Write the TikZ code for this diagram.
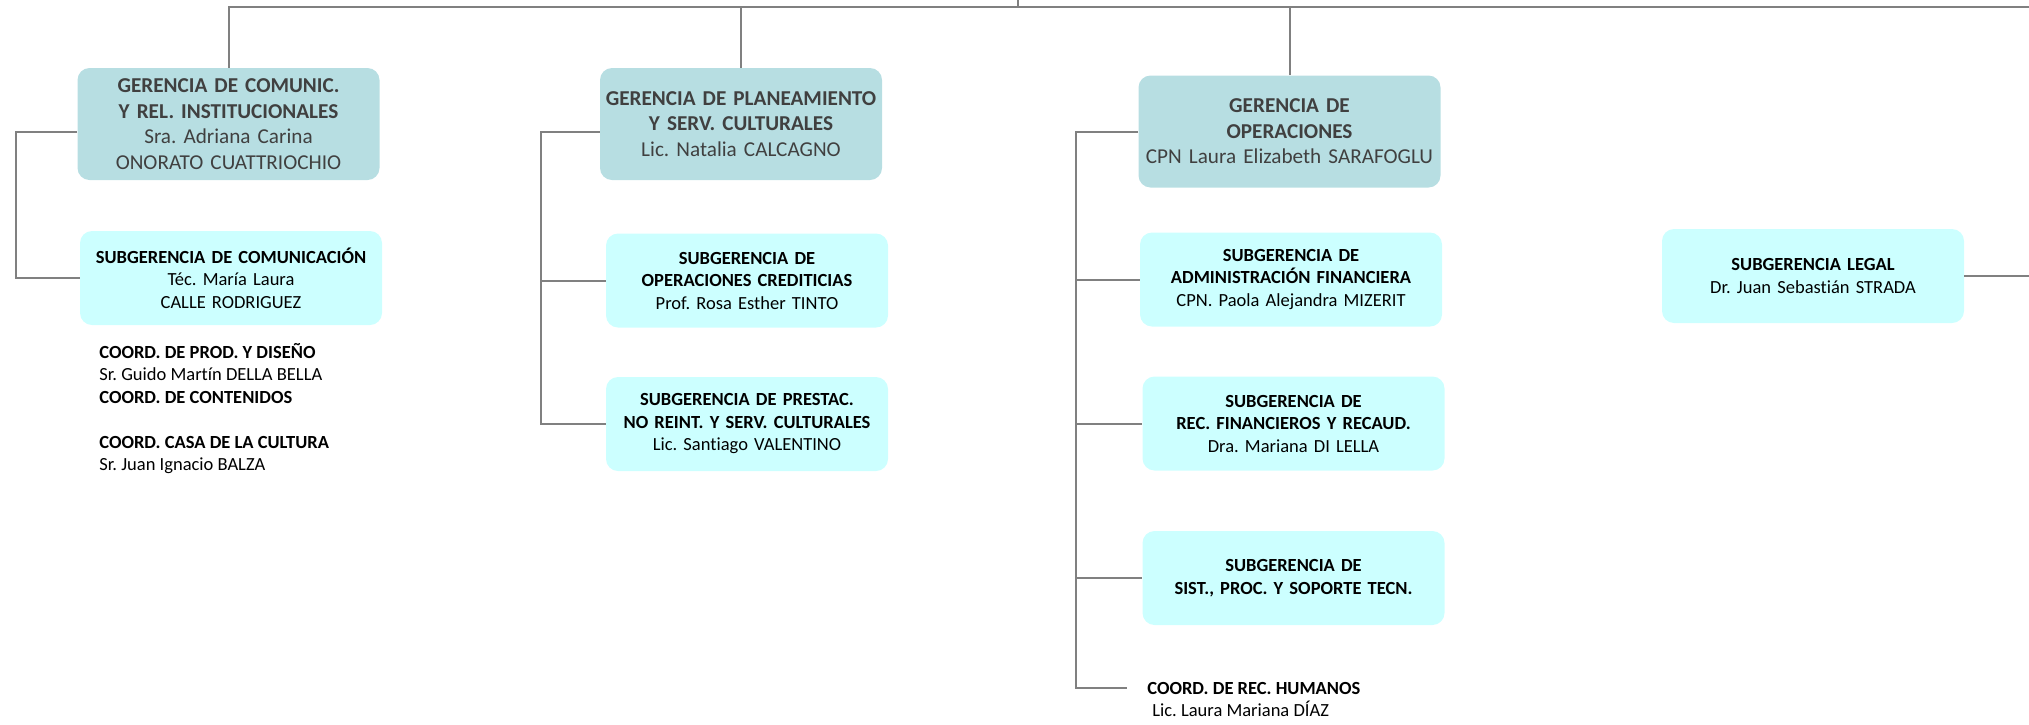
\documentclass[tikz,border=0pt]{standalone}
\usepackage{fontspec}
\setmainfont[Ligatures=NoCommon]{Carlito}
\usetikzlibrary{positioning}
\frenchspacing
\definecolor{gerfill}{RGB}{183,222,226}
\definecolor{subfill}{RGB}{204,255,255}
\definecolor{gertext}{RGB}{64,64,64}
\definecolor{linegray}{RGB}{128,128,128}
\newcommand{\orgbox}[5]{%
    \node[#2] (#1) at #3 {\textbf{#4}\\#5};%
}

\begin{document}
\begin{tikzpicture}[
        x=0.5pt,
        y=-0.5pt,
        gerbox/.style={fill=gerfill, text=gertext, rounded corners=6pt, inner sep=2pt,
            text width=147pt, minimum height=56pt, align=center,
            font=\fontsize{10.6}{12.8}\selectfont},
        subbox/.style={fill=subfill, text=black, rounded corners=6pt, inner sep=2pt,
            text width=147pt, minimum height=47pt, align=center,
            font=\fontsize{9.25}{11.25}\selectfont},
        link/.style={draw=linegray, line width=1pt},
        staff/.style={align=left, inner sep=0pt, font=\fontsize{9.25}{11.25}\selectfont}
    ]
        \useasboundingbox (0,0) rectangle (2029,724);

        \orgbox{G1}{gerbox}{(228.5,124)}{GERENCIA DE COMUNIC.\\Y REL. INSTITUCIONALES}{Sra. Adriana Carina\\ONORATO CUATTRIOCHIO}
        \orgbox{S1}{subbox}{(231,278)}{SUBGERENCIA DE COMUNICACIÓN}{Téc. María Laura\\CALLE RODRIGUEZ}
        \orgbox{G2}{gerbox, text width=137pt}{(741,124)}{GERENCIA DE PLANEAMIENTO\\Y SERV. CULTURALES}{Lic. Natalia CALCAGNO}
        \orgbox{S2a}{subbox, text width=137pt}{(747,280.5)}{SUBGERENCIA DE\\OPERACIONES CREDITICIAS}{Prof. Rosa Esther TINTO}
        \orgbox{S2b}{subbox, text width=137pt}{(747,424)}{SUBGERENCIA DE PRESTAC.\\NO REINT. Y SERV. CULTURALES}{Lic. Santiago VALENTINO}
        \orgbox{G3}{gerbox}{(1289.5,131.5)}{GERENCIA DE\\OPERACIONES}{CPN Laura Elizabeth SARAFOGLU}
        \orgbox{S3a}{subbox}{(1291,279.5)}{SUBGERENCIA DE\\ADMINISTRACIÓN FINANCIERA}{CPN. Paola Alejandra MIZERIT}
        \orgbox{S3b}{subbox}{(1293.5,423.5)}{SUBGERENCIA DE\\REC. FINANCIEROS Y RECAUD.}{Dra. Mariana DI LELLA}
        \node[subbox] (S3c) at (1293.5,578) {\textbf{SUBGERENCIA DE\\SIST., PROC. Y SOPORTE TECN.}};
        \orgbox{SL}{subbox}{(1813,276)}{SUBGERENCIA LEGAL}{Dr. Juan Sebastián STRADA}

        \node[staff, anchor=north west] (C1) at (99,343) {\textbf{COORD. DE PROD. Y DISEÑO}\\Sr. Guido Martín DELLA BELLA\\\textbf{COORD. DE CONTENIDOS}\\[11.25pt]\textbf{COORD. CASA DE LA CULTURA}\\Sr. Juan Ignacio BALZA};
        \node[staff, anchor=west, inner xsep=10pt] (HRt) at (1127,688) {\textbf{COORD. DE REC. HUMANOS}};
        \node[staff, anchor=base west] (HRn) at ([xshift=12.5pt, yshift=-11pt]HRt.base west) {Lic. Laura Mariana DÍAZ};

        \coordinate (parent) at (1018,0);
        \coordinate (busR) at (2029,7);
        \coordinate (legalR) at (2029,276);

        \draw[link] (G1.north) |- (busR);
        \draw[link] (parent) -- (parent |- busR);
        \draw[link] (G2.north) -- (G2.north |- busR);
        \draw[link] (G3.north) -- (G3.north |- busR);

        \draw[link] ([yshift=-4pt]G1.west) -- ++(-61,0) |- (S1.west);

        \draw[link] ([yshift=-4pt]G2.west) -- ++(-59,0) coordinate (bus2) |- (S2b.west);
        \draw[link] (bus2 |- S2a.west) -- (S2a.west);

        \draw[link] (G3.west) -- ++(-62,0) coordinate (bus3) |- (HRt.west);
        \draw[link] (bus3 |- S3a.west) -- (S3a.west);
        \draw[link] (bus3 |- S3b.west) -- (S3b.west);
        \draw[link] (bus3 |- S3c.west) -- (S3c.west);

        \draw[link] (SL.east) -- (legalR);
    \end{tikzpicture}
\end{document}
